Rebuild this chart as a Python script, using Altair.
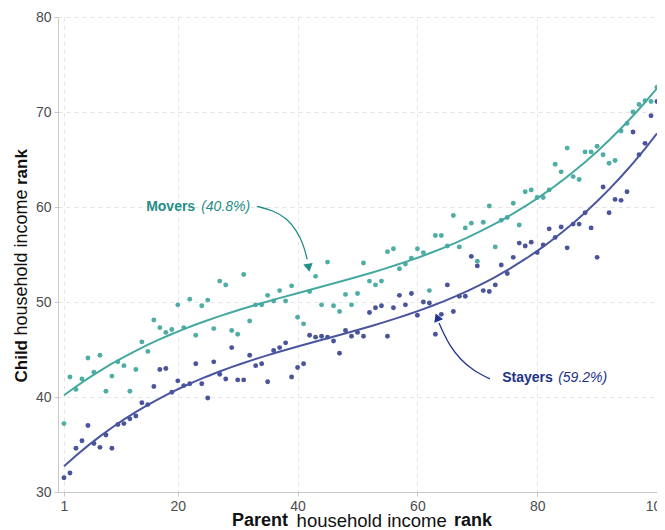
import altair as alt
import pandas as pd

# ---------------- data ----------------
ranks = list(range(1, 101))

movers = [37.2, 42.1, 40.8, 41.9, 44.1, 42.6, 44.4, 40.6, 42.2, 43.7,
          43.3, 40.6, 42.9, 45.8, 44.8, 48.1, 47.3, 46.8, 47.1, 49.7,
          47.3, 50.3, 46.5, 49.6, 50.2, 47.2, 52.2, 51.8, 47.0, 46.6,
          52.9, 48.0, 49.7, 49.7, 50.7, 50.1, 51.2, 50.1, 51.7, 48.4,
          47.7, 51.1, 52.7, 49.7, 54.2, 49.6, 49.0, 50.8, 49.7, 50.9,
          54.1, 52.2, 51.8, 52.2, 55.3, 55.6, 53.5, 54.0, 54.6, 55.6,
          55.2, 51.2, 57.0, 57.0, 55.9, 59.1, 55.8, 57.8, 58.3, 54.3,
          58.4, 60.1, 55.8, 58.6, 58.9, 60.4, 58.1, 61.6, 61.8, 61.0,
          61.0, 61.8, 64.5, 63.7, 66.2, 63.2, 62.9, 65.8, 65.8, 66.4,
          65.5, 64.6, 64.9, 68.0, 68.8, 70.0, 70.8, 71.2, 71.1, 72.6]

stayers = [31.5, 32.0, 34.6, 35.4, 37.0, 35.1, 34.7, 36.0, 34.6, 37.1,
           37.2, 37.7, 38.0, 39.4, 39.2, 41.1, 42.9, 43.0, 40.5, 41.7,
           41.2, 41.4, 43.5, 41.4, 39.9, 43.7, 42.4, 41.9, 45.2, 41.8,
           41.8, 44.4, 43.3, 43.5, 41.6, 44.9, 45.2, 45.7, 42.1, 43.1,
           43.5, 46.5, 46.3, 46.4, 46.3, 45.9, 44.6, 47.0, 46.4, 46.8,
           46.4, 48.9, 49.4, 49.6, 46.4, 49.4, 50.7, 49.7, 50.9, 48.6,
           50.0, 49.9, 46.6, 48.7, 51.8, 49.0, 50.6, 50.6, 54.8, 53.8,
           51.2, 51.1, 51.8, 53.9, 53.0, 54.7, 56.2, 55.9, 56.3, 55.2,
           56.0, 57.7, 56.8, 57.9, 55.7, 58.2, 58.2, 59.4, 57.8, 54.7,
           62.1, 59.4, 60.8, 60.7, 61.6, 67.9, 65.5, 66.7, 69.6, 71.1]

x_ticks = [1, 20, 40, 60, 80, 100]
y_ticks = [30, 40, 50, 60, 70, 80]

# annotation arrows (data coordinates)
movers_arrow_x = [33.2, 35.9, 38.2, 39.85, 40.95, 41.6]
movers_arrow_y = [60.07, 59.65, 58.8, 57.5, 56.1, 54.5]
movers_head = {"x": 41.85, "y": 53.6}
stayers_arrow_x = [72.1, 69.3, 67.1, 65.4, 64.3, 63.6]
stayers_arrow_y = [41.9, 42.8, 44.0, 45.4, 46.8, 47.8]
stayers_head = {"x": 63.3, "y": 48.4}

TEAL = "#45a9a0"
TEAL_DARK = "#1f8f88"
NAVY = "#3f4b98"
NAVY_DARK = "#22338a"
FONT = "Liberation Sans"

df_m = pd.DataFrame({"rank": ranks, "value": movers})
df_s = pd.DataFrame({"rank": ranks, "value": stayers})

xs = alt.Scale(domain=[0, 100], nice=False, zero=False)
ys = alt.Scale(domain=[30, 80], nice=False, zero=False)

xax = alt.Axis(values=x_ticks, title=None, grid=True, gridDash=[4, 4],
               gridColor="#e4e4e4", domainColor="#c8c8c8", tickColor="#c8c8c8",
               tickSize=4, labelFontSize=14, labelColor="#4d4d4d", labelFont=FONT,
               labelPadding=3, labelFlush=False)
yax = alt.Axis(values=y_ticks, title=None, grid=True, gridDash=[4, 4],
               gridColor="#e4e4e4", domainColor="#c8c8c8", tickColor="#c8c8c8",
               tickSize=4, labelFontSize=14, labelColor="#4d4d4d", labelFont=FONT,
               labelPadding=3, labelFlush=False)

X = lambda f: alt.X(f, scale=xs, axis=xax)
Y = lambda f: alt.Y(f, scale=ys, axis=yax)

pts_m = alt.Chart(df_m).mark_circle(size=24, opacity=0.95, color=TEAL).encode(
    x=X("rank:Q"), y=Y("value:Q"))
pts_s = alt.Chart(df_s).mark_circle(size=24, opacity=0.95, color=NAVY).encode(
    x=X("rank:Q"), y=Y("value:Q"))

fit_m = alt.Chart(df_m).transform_regression(
    "rank", "value", method="poly", order=3, extent=[1, 100]
).mark_line(color=TEAL, strokeWidth=2).encode(x=X("rank:Q"), y=Y("value:Q"))
fit_s = alt.Chart(df_s).transform_regression(
    "rank", "value", method="poly", order=3, extent=[1, 100]
).mark_line(color="#4a559f", strokeWidth=2).encode(x=X("rank:Q"), y=Y("value:Q"))

arr_m_df = pd.DataFrame({"rank": movers_arrow_x, "value": movers_arrow_y,
                         "o": list(range(len(movers_arrow_x)))})
arr_s_df = pd.DataFrame({"rank": stayers_arrow_x, "value": stayers_arrow_y,
                         "o": list(range(len(stayers_arrow_x)))})

arr_m = alt.Chart(arr_m_df).mark_line(color=TEAL_DARK, strokeWidth=1.3, interpolate="basis").encode(
    x=X("rank:Q"), y=Y("value:Q"), order="o:Q")
arr_s = alt.Chart(arr_s_df).mark_line(color=NAVY_DARK, strokeWidth=1.3, interpolate="basis").encode(
    x=X("rank:Q"), y=Y("value:Q"), order="o:Q")

head_m = alt.Chart(pd.DataFrame({"rank": [movers_head["x"]], "value": [movers_head["y"]]})).mark_point(
    shape="triangle-up", filled=True, size=90, angle=170, color=TEAL_DARK, opacity=1).encode(
    x=X("rank:Q"), y=Y("value:Q"))
head_s = alt.Chart(pd.DataFrame({"rank": [stayers_head["x"]], "value": [stayers_head["y"]]})).mark_point(
    shape="triangle-up", filled=True, size=90, angle=338, color=NAVY_DARK, opacity=1).encode(
    x=X("rank:Q"), y=Y("value:Q"))

labels_df = pd.DataFrame({
    "rank": [22.9, 23.9, 82.6, 83.5],
    "value": [60.0, 60.0, 42.0, 42.0],
    "t": ["Movers", "(40.8%)", "Stayers", "(59.2%)"],
})


def lab(i, align, weight, style, color):
    return alt.Chart(labels_df.iloc[[i]]).mark_text(
        align=align, baseline="middle", font=FONT, fontSize=14,
        fontWeight=weight, fontStyle=style, color=color).encode(
        x=X("rank:Q"), y=Y("value:Q"), text="t:N")


lab_m1 = lab(0, "right", "bold", "normal", TEAL_DARK)
lab_m2 = lab(1, "left", "normal", "italic", TEAL_DARK)
lab_s1 = lab(2, "right", "bold", "normal", NAVY_DARK)
lab_s2 = lab(3, "left", "normal", "italic", NAVY_DARK)


# axis titles with mixed weights
def ttl(text, x, y, align, weight, size, angle=0):
    return alt.Chart(pd.DataFrame({"t": [text]})).mark_text(
        align=align, baseline="middle", font=FONT, fontSize=size, fontWeight=weight,
        color="#111111", angle=angle).encode(
        x=alt.value(x), y=alt.value(y), text="t:N")


xt_y = 521 - 17
xt1 = ttl("Parent", 230, xt_y, "right", "bold", 18)
xt2 = ttl("household income", 313.7, xt_y, "center", "normal", 18.5)
xt3 = ttl("rank", 396, xt_y, "left", "bold", 18)

yt_x = 22 - 58
yt1 = ttl("Child", yt_x, 323, "right", "bold", 17, 270)
yt2 = ttl("household income", yt_x, 245.5, "center", "normal", 18, 270)
yt3 = ttl("rank", yt_x, 168, "left", "bold", 17, 270)

chart = alt.layer(
    pts_m, pts_s, fit_m, fit_s, arr_m, arr_s, head_m, head_s,
    lab_m1, lab_m2, lab_s1, lab_s2, xt1, xt2, xt3, yt1, yt2, yt3,
).properties(
    width=599, height=475,
    padding={"left": 50, "top": 9, "right": 0, "bottom": 38},
    autosize=alt.AutoSizeParams(type="none"),
).configure_view(stroke=None)

chart.save("out.html", embed_options={"renderer": "svg", "actions": False})
